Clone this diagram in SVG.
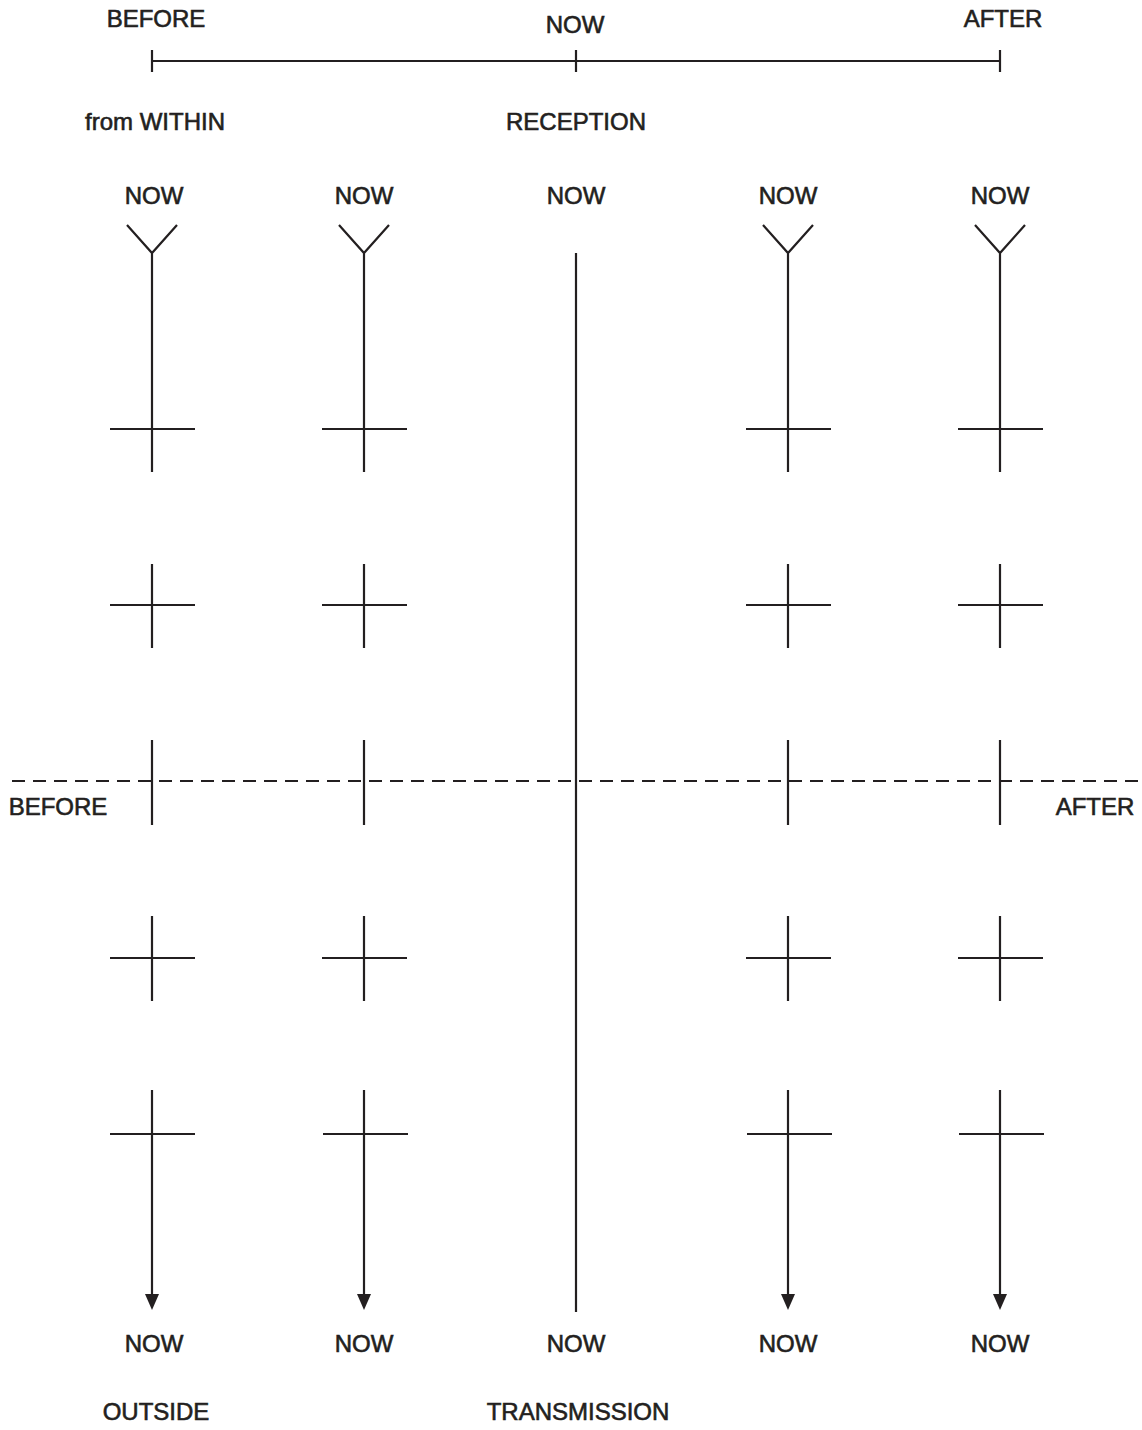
<svg xmlns="http://www.w3.org/2000/svg" width="1142" height="1430" viewBox="0 0 1142 1430">
<defs>
<style>
.ln{stroke:#231f20;stroke-width:2.2;fill:none;stroke-linecap:butt}
.dash{stroke:#231f20;stroke-width:2;fill:none;stroke-dasharray:13 8}
text{font-family:"Liberation Sans",Arial,sans-serif;font-size:24px;fill:#231f20;stroke:#231f20;stroke-width:0.6;text-anchor:middle}
</style>
</defs>
<rect width="1142" height="1430" fill="#ffffff"/>

<g id="timeline">
<line class="ln" x1="152" y1="61" x2="1000" y2="61"/>
<line class="ln" x1="152" y1="50" x2="152" y2="72"/>
<line class="ln" x1="576" y1="50" x2="576" y2="72"/>
<line class="ln" x1="1000" y1="50" x2="1000" y2="72"/>
<text x="156" y="27">BEFORE</text>
<text x="575" y="33">NOW</text>
<text x="1003" y="27">AFTER</text>
</g>

<g id="headings">
<text x="155" y="130">from WITHIN</text>
<text x="576" y="130">RECEPTION</text>
<text x="156" y="1420">OUTSIDE</text>
<text x="578" y="1420">TRANSMISSION</text>
<text x="58" y="815">BEFORE</text>
<text x="1095" y="815">AFTER</text>
</g>

<g id="top-now">
<text x="154" y="204">NOW</text>
<text x="364" y="204">NOW</text>
<text x="576" y="204">NOW</text>
<text x="788" y="204">NOW</text>
<text x="1000" y="204">NOW</text>
</g>
<g id="bottom-now">
<text x="154" y="1352">NOW</text>
<text x="364" y="1352">NOW</text>
<text x="576" y="1352">NOW</text>
<text x="788" y="1352">NOW</text>
<text x="1000" y="1352">NOW</text>
</g>

<g id="connectors">
<line class="dash" x1="12" y1="781" x2="1142" y2="781"/>
<line class="ln" x1="576" y1="253" x2="576" y2="1312"/>
</g>

<g id="col1">
<path class="ln" d="M127,225 L152,253 L177,225 M152,253 V472 M110,429 H195 M152,564 V648 M110,605 H195 M152,740 V825 M152,916 V1001 M110,958 H195 M110,1134 H195"/>
<path class="ln" d="M152,1090 V1296"/>
<path d="M145,1294 L159,1294 L152,1310 Z" fill="#231f20"/>
</g>
<g id="col2">
<path class="ln" d="M339,225 L364,253 L389,225 M364,253 V472 M322,429 H407 M364,564 V648 M322,605 H407 M364,740 V825 M364,916 V1001 M322,958 H407 M323,1134 H408"/>
<path class="ln" d="M364,1090 V1296"/>
<path d="M357,1294 L371,1294 L364,1310 Z" fill="#231f20"/>
</g>
<g id="col4">
<path class="ln" d="M763,225 L788,253 L813,225 M788,253 V472 M746,429 H831 M788,564 V648 M746,605 H831 M788,740 V825 M788,916 V1001 M746,958 H831 M747,1134 H832"/>
<path class="ln" d="M788,1090 V1296"/>
<path d="M781,1294 L795,1294 L788,1310 Z" fill="#231f20"/>
</g>
<g id="col5">
<path class="ln" d="M975,225 L1000,253 L1025,225 M1000,253 V472 M958,429 H1043 M1000,564 V648 M958,605 H1043 M1000,740 V825 M1000,916 V1001 M958,958 H1043 M959,1134 H1044"/>
<path class="ln" d="M1000,1090 V1296"/>
<path d="M993,1294 L1007,1294 L1000,1310 Z" fill="#231f20"/>
</g>
</svg>
